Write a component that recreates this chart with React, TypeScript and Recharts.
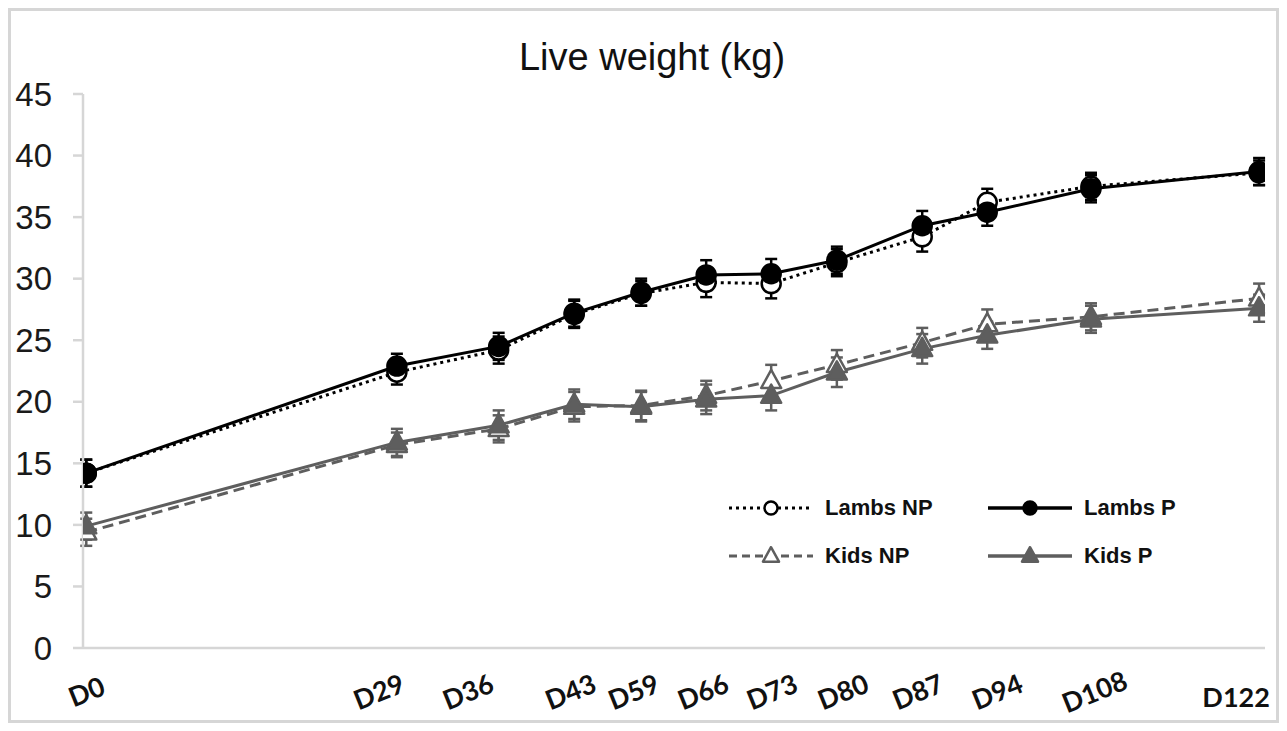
import { LineChart, Line, XAxis, YAxis, ErrorBar } from 'recharts';

// days as printed under the axis
const dayLabels = ['D0', 'D29', 'D36', 'D43', 'D59', 'D66', 'D73', 'D80', 'D87', 'D94', 'D108', 'D122'];
// where each sampling point sits on the (unitless) horizontal axis
const xPos = [0.05, 4.78, 6.33, 7.48, 8.5, 9.49, 10.48, 11.48, 12.78, 13.77, 15.35, 17.91];
// where the day labels were placed under the axis
const labelAt = [0.05, 4.5, 5.86, 7.42, 8.38, 9.44, 10.49, 11.57, 12.71, 13.92, 15.4, 17.56];
const xTicks = [0, 2, 4, 6, 8, 10, 12, 14, 16, 18];
const yTicks = [0, 5, 10, 15, 20, 25, 30, 35, 40, 45];

const lambsNP = [14.2, 22.4, 24.2, 27.1, 28.8, 29.7, 29.6, 31.3, 33.4, 36.2, 37.5, 38.6];
const lambsP = [14.2, 22.9, 24.5, 27.2, 28.9, 30.3, 30.4, 31.5, 34.3, 35.4, 37.3, 38.7];
const kidsNP = [9.4, 16.5, 17.8, 19.6, 19.7, 20.5, 21.7, 23.0, 24.8, 26.3, 26.9, 28.4];
const kidsP = [9.9, 16.7, 18.1, 19.8, 19.6, 20.2, 20.5, 22.4, 24.3, 25.4, 26.7, 27.6];

const lambsNPErr = [1.1, 1.0, 1.1, 1.1, 1.0, 1.2, 1.2, 1.1, 1.2, 1.1, 1.1, 1.0];
const lambsPErr = [1.1, 1.0, 1.1, 1.1, 1.1, 1.2, 1.2, 1.1, 1.2, 1.1, 1.1, 1.1];
const kidsNPErr = [1.1, 1.0, 1.1, 1.2, 1.2, 1.2, 1.3, 1.2, 1.2, 1.2, 1.1, 1.2];
const kidsPErr = [1.1, 1.1, 1.2, 1.2, 1.2, 1.2, 1.2, 1.2, 1.2, 1.1, 1.1, 1.1];

const data = dayLabels.map((d, i) => ({
  day: d,
  x: xPos[i],
  lambsNP: lambsNP[i],
  lambsP: lambsP[i],
  kidsNP: kidsNP[i],
  kidsP: kidsP[i],
  lambsNPErr: lambsNPErr[i],
  lambsPErr: lambsPErr[i],
  kidsNPErr: kidsNPErr[i],
  kidsPErr: kidsPErr[i],
}));

const BLACK = '#000000';
const GREY = '#5e5e5e';
const AXIS = '#d6d6d6';

type SeriesDef = {
  key: string;
  name: string;
  color: string;
  dash?: string;
  width: number;
  shape: 'circle' | 'triangle';
  filled: boolean;
};

// drawing order: open markers underneath the filled ones
const series: SeriesDef[] = [
  { key: 'lambsNP', name: 'Lambs NP', color: BLACK, dash: '3 4', width: 3, shape: 'circle', filled: false },
  { key: 'kidsNP', name: 'Kids NP', color: GREY, dash: '11 6', width: 3, shape: 'triangle', filled: false },
  { key: 'lambsP', name: 'Lambs P', color: BLACK, width: 3, shape: 'circle', filled: true },
  { key: 'kidsP', name: 'Kids P', color: GREY, width: 3, shape: 'triangle', filled: true },
];
const legendOrder = ['lambsNP', 'lambsP', 'kidsNP', 'kidsP'];

function Marker({ cx, cy, s, size }: { cx: number; cy: number; s: SeriesDef; size: number }) {
  const fill = s.filled ? s.color : '#ffffff';
  if (s.shape === 'circle') {
    return <circle cx={cx} cy={cy} r={size} fill={fill} stroke={s.color} strokeWidth={2.5} />;
  }
  const h = size * 1.1;
  return (
    <polygon
      points={`${cx},${cy - h} ${cx - size},${cy + h * 0.65} ${cx + size},${cy + h * 0.65}`}
      fill={fill}
      stroke={s.color}
      strokeWidth={2.5}
      strokeLinejoin="round"
    />
  );
}

function DayTick(props: any) {
  const { x, y, payload } = props;
  const i = labelAt.indexOf(payload.value);
  if (i < 0) return null;
  const last = i === dayLabels.length - 1;
  return (
    <g transform={`translate(${x},${y + (last ? 36 : 31)}) rotate(${last ? 0 : -22})`}>
      <text
        textAnchor="middle"
        dominantBaseline="central"
        fontFamily="Lato, 'Open Sans', sans-serif"
        fontWeight={700}
        fontSize={27}
        fill="#111"
      >
        {dayLabels[i]}
      </text>
    </g>
  );
}

function LegendBox() {
  return (
    <div
      style={{
        position: 'absolute',
        left: 717,
        top: 485,
        display: 'grid',
        gridTemplateColumns: '259px 200px',
        rowGap: 24,
        zIndex: 2,
      }}
    >
      {legendOrder.map((k) => {
        const s = series.find((d) => d.key === k)!;
        return (
          <div key={k} style={{ display: 'flex', alignItems: 'center', height: 24 }}>
            <svg width={86} height={24} style={{ display: 'block' }}>
              <line
                x1={1}
                y1={12}
                x2={85}
                y2={12}
                stroke={s.color}
                strokeWidth={s.filled ? 3.5 : 3}
                strokeDasharray={s.dash ? (s.shape === 'circle' ? '3 4' : '8 5') : undefined}
              />
              <Marker cx={43} cy={12} s={s} size={s.shape === 'circle' ? 6.5 : 8} />
            </svg>
            <span
              style={{
                marginLeft: 11,
                fontFamily: "'Liberation Sans', Arial, sans-serif",
                fontWeight: 700,
                fontSize: 22,
                color: '#111',
                lineHeight: '24px',
              }}
            >
              {s.name}
            </span>
          </div>
        );
      })}
    </div>
  );
}

export default function App() {
  return (
    <div
      style={{
        position: 'relative',
        width: 1271,
        height: 715,
        border: `3px solid ${AXIS}`,
        boxSizing: 'border-box',
        background: '#fff',
      }}
    >
      <div
        style={{
          position: 'absolute',
          left: 0,
          top: 27,
          width: 1282,
          textAlign: 'center',
          fontFamily: "'Liberation Sans', Arial, sans-serif",
          fontSize: 38,
          lineHeight: '38px',
          color: '#111',
          zIndex: 2,
        }}
      >
        Live weight (kg)
      </div>
      <LegendBox />
      <LineChart width={1265} height={709} data={data} margin={{ top: 83, right: 11, bottom: 0, left: 0 }}>
        <XAxis
          xAxisId="grid"
          dataKey="x"
          type="number"
          domain={[0, 18]}
          ticks={xTicks}
          interval={0}
          allowDataOverflow
          height={12}
          tickSize={10}
          tick={false}
          axisLine={{ stroke: AXIS, strokeWidth: 2.5 }}
          tickLine={{ stroke: AXIS, strokeWidth: 2.5 }}
        />
        <XAxis
          xAxisId="lbl"
          dataKey="x"
          type="number"
          domain={[0, 18]}
          ticks={labelAt}
          interval={0}
          allowDataOverflow
          height={60}
          tickSize={0}
          tickMargin={0}
          axisLine={false}
          tickLine={false}
          tick={DayTick}
        />
        <YAxis
          type="number"
          domain={[0, 45]}
          ticks={yTicks}
          interval={0}
          width={72}
          tickSize={10}
          tickMargin={21}
          axisLine={{ stroke: AXIS, strokeWidth: 2.5 }}
          tickLine={{ stroke: AXIS, strokeWidth: 2.5 }}
          tick={{ fontSize: 33, fill: '#1a1a1a', fontFamily: "'Liberation Sans', Arial, sans-serif" }}
        />
        {series.map((s) => (
          <Line
            key={s.key}
            xAxisId="grid"
            dataKey={s.key}
            name={s.name}
            type="linear"
            stroke={s.color}
            strokeWidth={s.width}
            strokeDasharray={s.dash}
            isAnimationActive={false}
            activeDot={false}
            dot={(p: any) => (
              <Marker key={`${s.key}-${p.index}`} cx={p.cx} cy={p.cy} s={s} size={s.shape === 'circle' ? 9.5 : 10} />
            )}
          >
            <ErrorBar dataKey={`${s.key}Err`} direction="y" width={6} strokeWidth={2.5} stroke={s.color} isAnimationActive={false} />
          </Line>
        ))}
      </LineChart>
    </div>
  );
}
